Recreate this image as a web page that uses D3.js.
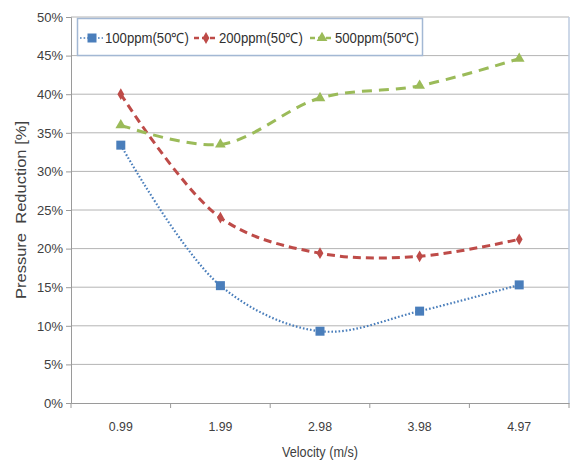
<!DOCTYPE html>
<html><head><meta charset="utf-8">
<script src="https://cdn.jsdelivr.net/npm/d3@7"></script>
<style>
html,body{margin:0;padding:0;background:#fff;}
text{font-family:"Liberation Sans Narrow","Arial Narrow","Liberation Sans",sans-serif;}
</style></head>
<body>
<svg id="chart" width="571" height="464"></svg>
<script>
const categories = ["0.99","1.99","2.98","3.98","4.97"];
const series100 = [33.4, 15.2, 9.3, 11.9, 15.3];
const series200 = [40.0, 24.0, 19.4, 19.0, 21.2];
const series500 = [36.0, 33.5, 39.5, 41.1, 44.6];
const seriesNames = ["100ppm(50℃)","200ppm(50℃)","500ppm(50℃)"];
const yTicks = [0,5,10,15,20,25,30,35,40,45,50];
const xTitle = "Velocity (m/s)";
const yTitle = "Pressure  Reduction [%]";

const svg = d3.select("#chart");
const m = {left:71, right:569, top:17, bottom:403};
const x = d3.scaleBand().domain(categories).range([m.left, m.right]);
const y = d3.scaleLinear().domain([0,50]).range([m.bottom, m.top]);

// gridlines
svg.append("g").selectAll("line").data(yTicks.filter(d=>d>0)).join("line")
  .attr("x1", m.left).attr("x2", m.right)
  .attr("y1", d=>y(d)).attr("y2", d=>y(d))
  .attr("stroke", "#b4b4b4").attr("stroke-width", 1);
// plot area right border
svg.append("line").attr("x1", m.right).attr("x2", m.right).attr("y1", m.top).attr("y2", m.bottom)
  .attr("stroke", "#bccbe0").attr("stroke-width", 1.5);

// y axis
const yAxis = svg.append("g").attr("transform", `translate(${m.left},0)`)
  .call(d3.axisLeft(y).tickValues(yTicks).tickFormat(d=>d+"%").tickSize(5).tickPadding(3));
yAxis.select(".domain").attr("stroke", "#9a9a9a");
yAxis.selectAll(".tick line").attr("stroke", "#9a9a9a");
yAxis.selectAll("text").attr("font-size", 13.5).attr("fill", "#404040")
  .attr("textLength", d=>d>=10?26:19).attr("lengthAdjust","spacingAndGlyphs");

// x axis
const xAxis = svg.append("g").attr("transform", `translate(0,${m.bottom})`)
  .call(d3.axisBottom(x).tickSize(0).tickPadding(18));
xAxis.select(".domain").attr("stroke", "#9a9a9a");
xAxis.selectAll("text").attr("font-size", 13.5).attr("fill", "#404040")
  .attr("textLength", 24).attr("lengthAdjust","spacingAndGlyphs");
// category boundary ticks
const bounds = categories.map(c=>x(c)).concat([x(categories[categories.length-1]) + x.bandwidth()]);
xAxis.append("g").selectAll("line").data(bounds).join("line")
  .attr("x1", d=>d).attr("x2", d=>d).attr("y1", 0).attr("y2", 5)
  .attr("stroke", "#9a9a9a");

// axis titles
svg.append("text").attr("x", 320).attr("y", 457).attr("text-anchor","middle")
  .attr("font-size", 14).attr("fill", "#404040")
  .attr("textLength", 76).attr("lengthAdjust","spacingAndGlyphs").text(xTitle);
svg.append("text").attr("transform", `translate(26,${(m.top+m.bottom)/2}) rotate(-90)`)
  .attr("text-anchor","middle").attr("font-size", 14).attr("fill", "#404040")
  .style("white-space","pre").attr("textLength", 178).attr("lengthAdjust","spacingAndGlyphs").text(yTitle);

const cx = d => x(d) + x.bandwidth()/2;
const line = d3.line().x((d,i)=>cx(categories[i])).y(d=>y(d)).curve(d3.curveCatmullRom.alpha(0.5));

const styles = [
  {data: series100, color:"#4a7ebb", width:2.2, dash:"1.6,2", cap:"butt", marker:"square"},
  {data: series200, color:"#be4b48", width:3, dash:"8,5", cap:"butt", marker:"diamond"},
  {data: series500, color:"#9bbb59", width:3, dash:"10,7", cap:"butt", marker:"triangle"}
];

function marker(g, type, color, px, py){
  if(type==="square"){
    g.append("rect").attr("x", px-4.5).attr("y", py-4.5).attr("width", 9).attr("height", 9).attr("fill", color);
  } else if(type==="diamond"){
    g.append("path").attr("d", d3.symbol(d3.symbolDiamond, 40)()).attr("transform", `translate(${px},${py})`).attr("fill", color);
  } else {
    g.append("path").attr("d", d3.symbol(d3.symbolTriangle, 50)()).attr("transform", `translate(${px},${py})`).attr("fill", color);
  }
}

styles.forEach(s=>{
  svg.append("path").datum(s.data).attr("d", line).attr("fill","none")
    .attr("stroke", s.color).attr("stroke-width", s.width).attr("stroke-dasharray", s.dash)
    .attr("stroke-linecap", s.cap);
  const g = svg.append("g");
  s.data.forEach((v,i)=>marker(g, s.marker, s.color, cx(categories[i]), y(v)));
});

// legend
const lg = svg.append("g");
lg.append("rect").attr("x", 77.5).attr("y", 18.5).attr("width", 345).attr("height", 37)
  .attr("fill", "#fff").attr("stroke", "#a3b8d4").attr("stroke-width", 1.5);
const legX = [80, 194, 310];
styles.forEach((s,i)=>{
  const lx = legX[i], ly = 38;
  lg.append("line").attr("x1", lx).attr("x2", lx+23).attr("y1", ly).attr("y2", ly)
    .attr("stroke", s.color).attr("stroke-width", s.width-0.5).attr("stroke-dasharray", i===0?"1.6,2":"5,3");
  marker(lg, s.marker, s.color, lx+12, ly);
  lg.append("text").attr("x", lx+25).attr("y", ly+5).attr("font-size", 14).attr("fill", "#303030")
    .attr("textLength", 84).attr("lengthAdjust","spacingAndGlyphs")
    .text(seriesNames[i]);
});
</script>
</body></html>
